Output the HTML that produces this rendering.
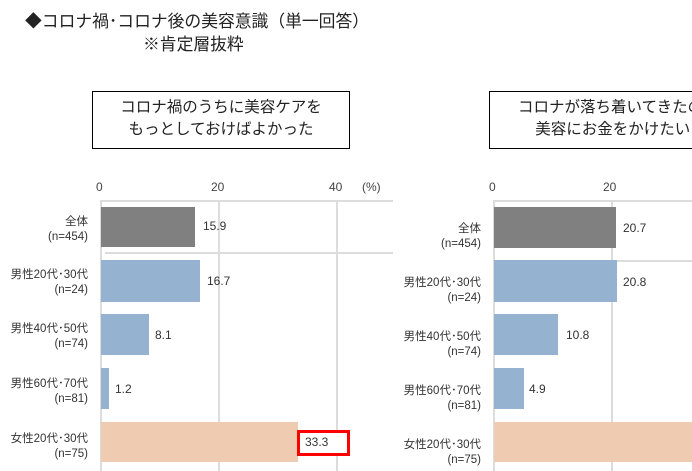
<!DOCTYPE html>
<html><head><meta charset="utf-8"><style>
body{margin:0;width:692px;height:471px;background:#fff;position:relative;overflow:hidden;font-family:"Liberation Sans","Noto Sans CJK JP",sans-serif;color:#222}
div{position:absolute}
.t{font-size:16.8px;white-space:nowrap}
.box{border:1.5px solid #000;font-size:15.5px;line-height:22px;text-align:center;box-sizing:border-box;padding-top:5px;white-space:nowrap;overflow:hidden}
.lab{font-size:11.5px;line-height:15px;text-align:right;white-space:nowrap;color:#333}
.ax{font-size:12px;color:#444}
.v{font-size:12px;color:#333}
.g{background:#dcdcdc}
</style></head><body>
<div class="t" style="left:25px;top:8px">◆コロナ禍･コロナ後の美容意識（単一回答）</div>
<div class="t" style="left:143px;top:31px">※肯定層抜粋</div>

<div class="box" style="left:92px;top:91px;width:258px;height:58px">コロナ禍のうちに美容ケアを<br>もっとしておけばよかった</div>
<div class="box" style="left:489px;top:91px;width:230px;height:58px;text-align:left;padding-left:28px">コロナが落ち着いてきたの<br>&nbsp;&nbsp;&nbsp;&nbsp;美容にお金をかけたい</div>

<!-- left chart -->
<div class="ax" style="left:96px;top:180px">0</div>
<div class="ax" style="left:211px;top:180px">20</div>
<div class="ax" style="left:329px;top:180px">40</div>
<div class="ax" style="left:362px;top:180px">(%)</div>
<div class="g" style="left:100px;top:200px;width:293px;height:2px"></div>
<div class="g" style="left:105px;top:252px;width:288px;height:2px"></div>
<div class="g" style="left:100px;top:200px;width:2px;height:271px"></div>
<div class="g" style="left:218px;top:200px;width:2px;height:271px"></div>
<div class="g" style="left:336px;top:200px;width:2px;height:271px"></div>
<div style="left:101px;top:207px;width:94px;height:40px;background:#808080"></div>
<div style="left:101px;top:260px;width:99px;height:42px;background:#95b3d0"></div>
<div style="left:101px;top:314px;width:48px;height:41px;background:#95b3d0"></div>
<div style="left:101px;top:368px;width:8px;height:41px;background:#95b3d0"></div>
<div style="left:101px;top:422px;width:197px;height:40px;background:#efcbb2"></div>
<div class="v" style="left:203px;top:219px">15.9</div>
<div class="v" style="left:207px;top:274px">16.7</div>
<div class="v" style="left:155px;top:328px">8.1</div>
<div class="v" style="left:115px;top:382px">1.2</div>
<div style="left:297px;top:430px;width:47px;height:20px;border:3px solid #f00;background:#fff"></div>
<div class="v" style="left:305px;top:435px">33.3</div>
<div class="lab" style="right:604px;top:215px">全体<br>(n=454)</div>
<div class="lab" style="right:604px;top:268px">男性20代･30代<br>(n=24)</div>
<div class="lab" style="right:604px;top:322px">男性40代･50代<br>(n=74)</div>
<div class="lab" style="right:604px;top:377px">男性60代･70代<br>(n=81)</div>
<div class="lab" style="right:604px;top:432px">女性20代･30代<br>(n=75)</div>

<!-- right chart -->
<div class="ax" style="left:489px;top:180px">0</div>
<div class="ax" style="left:603px;top:180px">20</div>
<div class="g" style="left:493px;top:200px;width:199px;height:2px"></div>
<div class="g" style="left:612px;top:260px;width:80px;height:2px"></div>
<div class="g" style="left:493px;top:200px;width:2px;height:271px"></div>
<div class="g" style="left:611px;top:200px;width:2px;height:271px"></div>
<div style="left:494px;top:207px;width:122px;height:41px;background:#808080"></div>
<div style="left:494px;top:260px;width:123px;height:42px;background:#95b3d0"></div>
<div style="left:494px;top:314px;width:64px;height:41px;background:#95b3d0"></div>
<div style="left:494px;top:368px;width:30px;height:41px;background:#95b3d0"></div>
<div style="left:494px;top:422px;width:198px;height:40px;background:#efcbb2"></div>
<div class="v" style="left:623px;top:221px">20.7</div>
<div class="v" style="left:623px;top:275px">20.8</div>
<div class="v" style="left:566px;top:328px">10.8</div>
<div class="v" style="left:529px;top:382px">4.9</div>
<div class="lab" style="right:211px;top:222px">全体<br>(n=454)</div>
<div class="lab" style="right:211px;top:276px">男性20代･30代<br>(n=24)</div>
<div class="lab" style="right:211px;top:330px">男性40代･50代<br>(n=74)</div>
<div class="lab" style="right:211px;top:384px">男性60代･70代<br>(n=81)</div>
<div class="lab" style="right:211px;top:438px">女性20代･30代<br>(n=75)</div>
</body></html>
